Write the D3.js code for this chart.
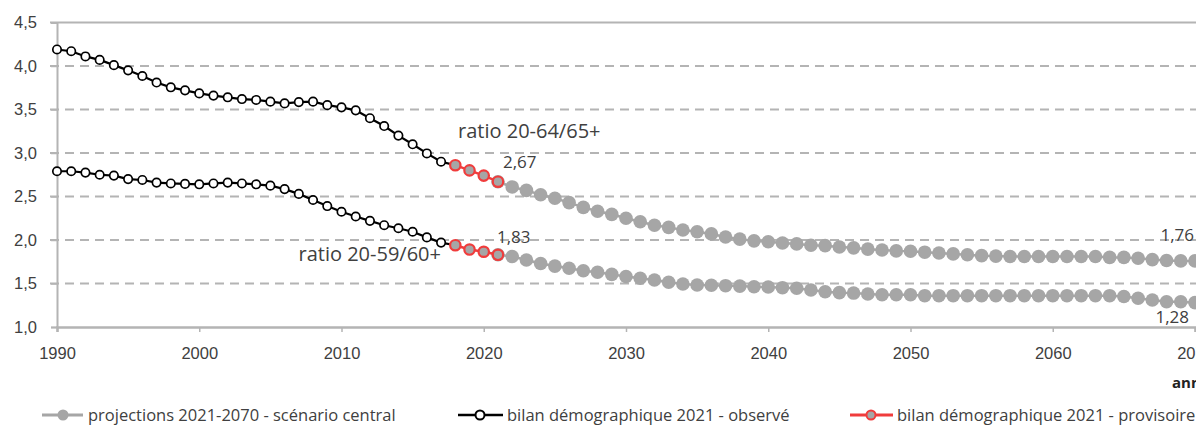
<!DOCTYPE html>
<html>
<head>
<meta charset="utf-8">
<script src="https://cdn.jsdelivr.net/npm/d3@7"></script>
<style>
  html, body { margin: 0; padding: 0; background: #fff; overflow: hidden; }
  svg { display: block; font-family: "Open Sans", sans-serif; }
</style>
</head>
<body>
<svg id="chart" width="1196" height="425"></svg>
<script>
// years
const obsYears = d3.range(1990, 2019);   // observed (black), 1990-2018
const provYears = d3.range(2018, 2022);  // provisional (red), 2018-2021
const projYears = d3.range(2021, 2071);  // projections (gray), 2021-2070

// ratio 20-64/65+
const upperObserved = [4.19, 4.17, 4.11, 4.07, 4.01, 3.95, 3.885, 3.81, 3.755, 3.72,
  3.685, 3.66, 3.64, 3.62, 3.61, 3.59, 3.57, 3.585, 3.59, 3.55,
  3.525, 3.49, 3.40, 3.31, 3.20, 3.10, 2.995, 2.90, 2.86];
const upperProvisional = [2.86, 2.80, 2.74, 2.67];
const upperProjection = [2.67, 2.61, 2.57, 2.52, 2.48, 2.43, 2.375, 2.33, 2.295, 2.25,
  2.21, 2.17, 2.145, 2.115, 2.095, 2.07, 2.035, 2.01, 1.99, 1.98,
  1.965, 1.955, 1.94, 1.935, 1.92, 1.91, 1.895, 1.885, 1.875, 1.87,
  1.86, 1.85, 1.84, 1.83, 1.82, 1.815, 1.81, 1.81, 1.81, 1.81,
  1.81, 1.81, 1.81, 1.80, 1.80, 1.79, 1.775, 1.765, 1.76, 1.76];

// ratio 20-59/60+
const lowerObserved = [2.79, 2.79, 2.775, 2.75, 2.74, 2.70, 2.69, 2.66, 2.65, 2.645,
  2.64, 2.65, 2.66, 2.65, 2.64, 2.625, 2.585, 2.53, 2.46, 2.39,
  2.325, 2.27, 2.22, 2.17, 2.135, 2.095, 2.03, 1.97, 1.94];
const lowerProvisional = [1.94, 1.89, 1.865, 1.83];
const lowerProjection = [1.83, 1.81, 1.77, 1.73, 1.70, 1.675, 1.647, 1.63, 1.605, 1.58,
  1.56, 1.54, 1.515, 1.495, 1.483, 1.48, 1.475, 1.47, 1.463, 1.46,
  1.452, 1.445, 1.425, 1.405, 1.395, 1.39, 1.38, 1.37, 1.37, 1.37,
  1.36, 1.36, 1.36, 1.36, 1.36, 1.36, 1.36, 1.36, 1.36, 1.36,
  1.36, 1.36, 1.36, 1.36, 1.35, 1.33, 1.31, 1.29, 1.29, 1.28];

const yTicks = [1.0, 1.5, 2.0, 2.5, 3.0, 3.5, 4.0, 4.5];
const xTicks = [1990, 2000, 2010, 2020, 2030, 2040, 2050, 2060, 2070];

const legendLabels = ["projections 2021-2070 - scénario central",
  "bilan démographique 2021 - observé",
  "bilan démographique 2021 - provisoire"];

const grey = "#a6a6a6", red = "#f03c3c", txt = "#404040", gridCol = "#b4b4b4";

const svg = d3.select("#chart");

const x = d3.scaleLinear().domain([1990, 2070]).range([57, 1195]);
const y = d3.scaleLinear().domain([1, 4.5]).range([327, 22.5]);

const fmt = v => d3.format(".1f")(v).replace(".", ",");
const fmt2 = v => d3.format(".2f")(v).replace(".", ",");

// gridlines
svg.append("g")
  .selectAll("line")
  .data(yTicks.filter(t => t > 1))
  .join("line")
  .attr("x1", 50).attr("x2", 1196)
  .attr("y1", d => y(d)).attr("y2", d => y(d))
  .attr("stroke", gridCol)
  .attr("stroke-width", 2)
  .attr("stroke-dasharray", d => d === 4.5 ? null : "9,6");

// y axis
const yAxis = svg.append("g")
  .attr("transform", `translate(${x(1990)},0)`)
  .call(d3.axisLeft(y).tickValues(yTicks).tickFormat(fmt).tickSize(6).tickPadding(14));
yAxis.select(".domain").attr("stroke", gridCol).attr("stroke-width", 2);
yAxis.selectAll(".tick line").attr("stroke", gridCol).attr("stroke-width", 1.5);
yAxis.selectAll("text").attr("fill", txt).style("font-size", "16.5px");

// x axis
const xAxis = svg.append("g")
  .attr("transform", `translate(0,${y(1)})`)
  .call(d3.axisBottom(x).tickValues(xTicks).tickFormat(d3.format("d")).tickSize(5).tickPadding(15));
xAxis.select(".domain").attr("stroke", gridCol).attr("stroke-width", 2.5);
xAxis.selectAll(".tick line").attr("stroke", gridCol).attr("stroke-width", 1.5);
xAxis.selectAll("text").attr("fill", txt).style("font-size", "16.5px");

svg.append("text")
  .attr("x", 1172).attr("y", 388)
  .attr("fill", "#222")
  .style("font-size", "15px").style("font-weight", "bold")
  .text("année");

const line = d3.line().x(d => x(d[0])).y(d => y(d[1]));

let drawSeries = (years, values, kind) => {
  const pts = years.map((yr, i) => [yr, values[i]]);
  const g = svg.append("g");
  const col = kind === "proj" ? grey : kind === "obs" ? "#000" : red;
  g.append("path")
    .attr("d", line(pts))
    .attr("fill", "none")
    .attr("stroke", col)
    .attr("stroke-width", kind === "obs" ? 2.2 : 2.5);
  g.selectAll("circle")
    .data(pts)
    .join("circle")
    .attr("cx", d => x(d[0]))
    .attr("cy", d => y(d[1]))
    .attr("r", kind === "proj" ? 6.8 : kind === "obs" ? 4.2 : 5.2)
    .attr("fill", kind === "obs" ? "#fff" : grey)
    .attr("stroke", kind === "proj" ? "none" : col)
    .attr("stroke-width", kind === "obs" ? 1.7 : 2.2);
};

drawSeries(projYears, upperProjection, "proj");
drawSeries(projYears, lowerProjection, "proj");
drawSeries(obsYears, upperObserved, "obs");
drawSeries(obsYears, lowerObserved, "obs");
drawSeries(provYears, upperProvisional, "prov");
drawSeries(provYears, lowerProvisional, "prov");

// annotations
const ann = svg.append("g").attr("fill", txt);
ann.append("text").attr("x", 458).attr("y", 138).style("font-size", "20px").text("ratio 20-64/65+");
ann.append("text").attr("x", 441).attr("y", 261).attr("text-anchor", "end").style("font-size", "20px").text("ratio 20-59/60+");
ann.append("text").attr("x", x(2021) + 5).attr("y", y(upperProvisional[3]) - 13.5).style("font-size", "17px")
  .text(fmt2(upperProvisional[3]));
ann.append("text").attr("x", x(2021) - 1).attr("y", y(lowerProvisional[3]) - 12).style("font-size", "17px")
  .text(fmt2(lowerProvisional[3]));
ann.append("text").attr("x", 1194).attr("y", y(upperProjection[49]) - 20).attr("text-anchor", "end").style("font-size", "17px")
  .text(fmt2(upperProjection[49]));
ann.append("text").attr("x", 1189).attr("y", y(lowerProjection[49]) + 20).attr("text-anchor", "end").style("font-size", "17px")
  .text(fmt2(lowerProjection[49]));

// legend
const legY = 415;
const legendItems = [
  { x0: 42, x1: 83, cx: 63, tx: 88, kind: "proj" },
  { x0: 458, x1: 503, cx: 480, tx: 507, kind: "obs" },
  { x0: 850, x1: 893, cx: 871, tx: 897, kind: "prov" }
];
const leg = svg.append("g");
legendItems.forEach((it, i) => {
  const col = it.kind === "proj" ? grey : it.kind === "obs" ? "#000" : red;
  leg.append("line").attr("x1", it.x0).attr("x2", it.x1).attr("y1", legY).attr("y2", legY)
    .attr("stroke", col).attr("stroke-width", it.kind === "obs" ? 2.5 : 3);
  leg.append("circle").attr("cx", it.cx).attr("cy", legY)
    .attr("r", it.kind === "proj" ? 5.5 : 4.5)
    .attr("fill", it.kind === "obs" ? "#fff" : grey)
    .attr("stroke", it.kind === "proj" ? "none" : col)
    .attr("stroke-width", 2);
  leg.append("text").attr("x", it.tx).attr("y", legY + 5.5)
    .attr("fill", txt).style("font-size", "16.5px")
    .text(legendLabels[i]);
});
</script>
</body>
</html>
